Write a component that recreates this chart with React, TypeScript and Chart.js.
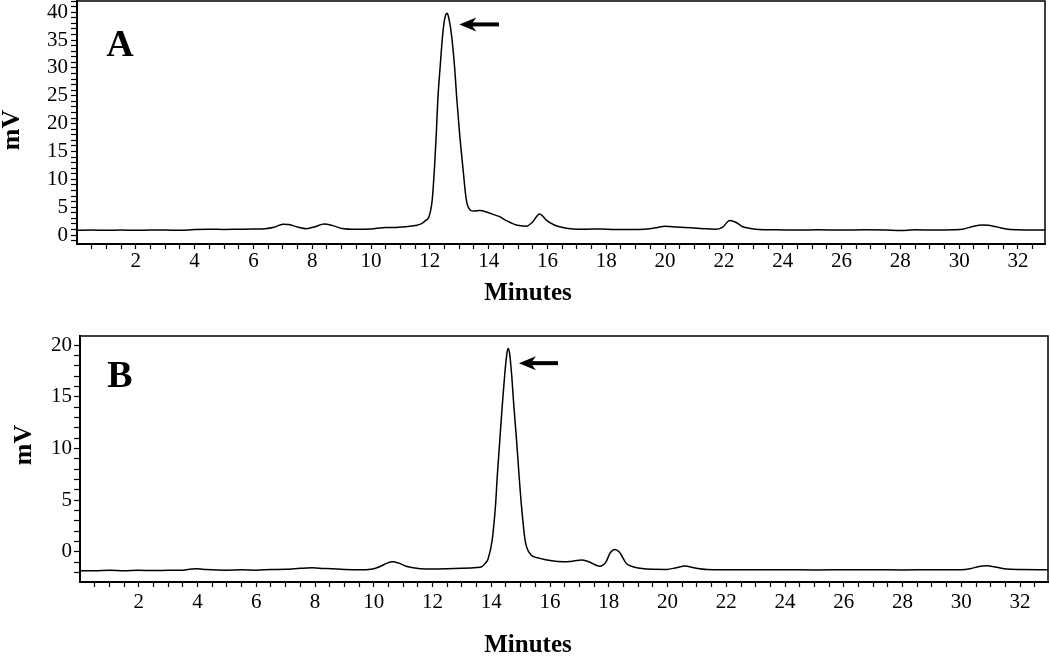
import React, { useEffect, useRef } from "react";
import { Chart, registerables } from "chart.js";
Chart.register(...registerables);

// ---- Panel A data (minutes, mV) ----
const timeA = [
  0.0, 0.5, 1.0, 1.5, 2.0, 2.5, 3.0, 3.5, 4.0, 4.5, 5.0, 5.5, 6.0, 6.4, 6.7, 7.0, 7.2, 7.5, 7.8, 8.1,
  8.4, 8.7, 9.0, 9.5, 10.0, 10.5, 10.8, 11.2, 11.5, 11.7, 11.85, 11.97, 12.08, 12.16, 12.22, 12.27, 12.35, 12.44, 12.52, 12.59,
  12.65, 12.73, 12.84, 12.92, 13.01, 13.12, 13.24, 13.37, 13.5, 13.7, 13.9, 14.1, 14.37, 14.6, 14.94, 15.28, 15.5, 15.73, 15.96, 16.2,
  16.41, 16.86, 17.3, 17.8, 18.3, 18.8, 19.3, 19.7, 20.0, 20.4, 20.9, 21.3, 21.7, 21.95, 22.2, 22.4, 22.64, 22.9, 23.2, 23.8,
  24.5, 25.2, 26.0, 26.8, 27.5, 28.0, 28.5, 29.2, 29.8, 30.12, 30.5, 30.8, 31.0, 31.26, 31.6, 32.0, 32.5, 33.0,
];
const mvA = [
  0.85, 0.9, 0.85, 0.9, 0.85, 0.9, 0.9, 0.85, 1.0, 1.05, 1.0, 1.05, 1.1, 1.15, 1.4, 1.95, 1.9, 1.45, 1.15, 1.5,
  2.0, 1.7, 1.2, 1.05, 1.1, 1.35, 1.35, 1.5, 1.7, 2.0, 2.6, 3.3, 6.3, 12.3, 18.3, 24.2, 30.2, 36.2, 39.2, 39.8,
  38.8, 36.2, 30.2, 24.2, 18.3, 12.3, 6.3, 4.5, 4.3, 4.4, 4.2, 3.8, 3.3, 2.6, 1.8, 1.6, 2.4, 3.8, 2.7, 1.9,
  1.5, 1.1, 1.05, 1.1, 1.0, 1.0, 1.05, 1.3, 1.6, 1.45, 1.3, 1.15, 1.05, 1.4, 2.6, 2.3, 1.5, 1.2, 1.0, 0.95,
  0.9, 0.95, 0.9, 0.95, 0.9, 0.8, 0.95, 0.9, 0.95, 1.05, 1.6, 1.8, 1.75, 1.5, 1.1, 0.95, 0.9, 0.9,
];

// ---- Panel B data (minutes, mV) ----
const timeB = [
  0.0, 0.5, 1.0, 1.5, 2.0, 2.5, 3.0, 3.5, 3.8, 4.0, 4.3, 5.0, 5.5, 6.0, 6.5, 7.0, 7.5, 7.9, 8.3, 9.0,
  9.5, 9.9, 10.2, 10.45, 10.65, 10.85, 11.1, 11.34, 11.79, 12.5, 13.0, 13.5, 13.67, 13.8, 13.89, 14.03, 14.14, 14.21, 14.29, 14.37,
  14.46, 14.53, 14.57, 14.62, 14.69, 14.77, 14.86, 14.94, 15.03, 15.15, 15.31, 15.65, 16.0, 16.45, 16.8, 17.07, 17.3, 17.69, 17.9, 18.05,
  18.2, 18.35, 18.6, 18.82, 19.06, 19.5, 19.96, 20.3, 20.59, 20.9, 21.33, 22.0, 23.0, 24.0, 25.0, 26.0, 27.0, 28.0, 29.0, 30.0,
  30.29, 30.6, 30.86, 31.2, 31.54, 32.0, 33.0,
];
const mvB = [
  -1.85, -1.85, -1.8, -1.85, -1.8, -1.82, -1.8, -1.78, -1.68, -1.65, -1.72, -1.78, -1.75, -1.78, -1.72, -1.7, -1.6, -1.55, -1.62, -1.72,
  -1.75, -1.7, -1.45, -1.1, -0.97, -1.1, -1.4, -1.55, -1.67, -1.65, -1.6, -1.52, -1.45, -1.1, -0.7, 1.13, 4.36, 7.59, 10.81, 14.04,
  17.27, 19.2, 19.7, 19.3, 17.27, 14.04, 10.81, 7.59, 4.36, 1.13, -0.16, -0.64, -0.85, -0.97, -0.9, -0.8, -0.95, -1.4, -1.0, -0.1,
  0.23, 0.0, -1.13, -1.45, -1.6, -1.7, -1.71, -1.55, -1.39, -1.55, -1.71, -1.74, -1.75, -1.74, -1.76, -1.75, -1.74, -1.76, -1.75, -1.74,
  -1.65, -1.42, -1.35, -1.5, -1.68, -1.72, -1.74,
];

// ---- Tick labels ----
const xTickLabels = [2, 4, 6, 8, 10, 12, 14, 16, 18, 20, 22, 24, 26, 28, 30, 32];
const xMinorStep = 0.5;
const yTickLabelsA = [0, 5, 10, 15, 20, 25, 30, 35, 40];
const yTickLabelsB = [0, 5, 10, 15, 20];
const yMinorStep = 1;

// ---- Arrow annotations: [tip minutes, tip mV, tail minutes] ----
const arrowA = [13.0, 37.8, 14.35];
const arrowB = [14.94, 18.27, 16.27];

type PanelCfg = {
  time: number[];
  mv: number[];
  yMin: number;
  yMax: number;
  xMax: number;
  yLabels: number[];
  letter: string;
  arrow: number[];
  width: number;
  height: number;
  padTop: number;
  padRight: number;
  yWidth: number;
  xHeight: number;
  yTitle: { x: number; y: number };
  xTitle: { x: number; y: number };
  letterPos: { x: number; y: number };
  xTickPad: number;
  yTickPad: number;
};

const FONT = "'Liberation Serif', 'Times New Roman', serif";

function makeChart(canvas: HTMLCanvasElement, cfg: PanelCfg) {
  const points = cfg.time.map((t, i) => ({ x: t, y: cfg.mv[i] }));
  const deco = {
    id: "deco" + cfg.letter,
    afterDraw(chart: any) {
      const { ctx, chartArea } = chart;
      const xs = chart.scales.x;
      const ys = chart.scales.y;
      ctx.save();
      // box
      ctx.strokeStyle = "#000";
      ctx.lineWidth = 1.5;
      ctx.strokeRect(chartArea.left, chartArea.top, chartArea.right - chartArea.left, chartArea.bottom - chartArea.top);
      // arrow
      const tx = xs.getPixelForValue(cfg.arrow[0]);
      const ty = ys.getPixelForValue(cfg.arrow[1]);
      const ex = xs.getPixelForValue(cfg.arrow[2]);
      ctx.fillStyle = "#000";
      ctx.lineWidth = 4;
      ctx.beginPath();
      ctx.moveTo(tx + 10, ty);
      ctx.lineTo(ex, ty);
      ctx.stroke();
      ctx.beginPath();
      ctx.moveTo(tx, ty);
      ctx.lineTo(tx + 17, ty - 7);
      ctx.lineTo(tx + 12, ty);
      ctx.lineTo(tx + 17, ty + 7);
      ctx.closePath();
      ctx.fill();
      // panel letter
      ctx.font = "bold 38px " + FONT;
      ctx.textAlign = "center";
      ctx.textBaseline = "alphabetic";
      ctx.fillText(cfg.letter, cfg.letterPos.x, cfg.letterPos.y);
      // axis titles
      ctx.font = "bold 25px " + FONT;
      ctx.textBaseline = "alphabetic";
      ctx.fillText("Minutes", cfg.xTitle.x, cfg.xTitle.y);
      ctx.save();
      ctx.translate(cfg.yTitle.x, cfg.yTitle.y);
      ctx.rotate(-Math.PI / 2);
      ctx.font = "bold 26px " + FONT;
      ctx.fillText("mV", 0, 0);
      ctx.restore();
      ctx.restore();
    },
  };

  return new Chart(canvas, {
    type: "line",
    data: {
      datasets: [
        {
          data: points,
          borderColor: "#000",
          borderWidth: 1.5,
          pointRadius: 0,
          fill: false,
          cubicInterpolationMode: "monotone",
        },
      ],
    },
    options: {
      responsive: false,
      animation: false,
      events: [],
      layout: { padding: { top: cfg.padTop, right: cfg.padRight, left: 0, bottom: 0 } },
      plugins: { legend: { display: false }, tooltip: { enabled: false }, title: { display: false } },
      scales: {
        x: {
          type: "linear",
          min: 0,
          max: cfg.xMax,
          afterFit: (s: any) => {
            s.height = cfg.xHeight;
            s.paddingLeft = 0;
            s.paddingRight = 0;
          },
          afterBuildTicks: (s: any) => {
            const ticks = [];
            for (let v = xMinorStep; v <= cfg.xMax + 1e-9; v += xMinorStep) ticks.push({ value: Math.round(v * 10) / 10 });
            s.ticks = ticks;
          },
          grid: { display: true, drawOnChartArea: false, drawTicks: true, tickLength: 5, color: "#000", tickWidth: 1.2 },
          border: { display: true, color: "#000", width: 2 },
          ticks: {
            autoSkip: false,
            maxRotation: 0,
            padding: cfg.xTickPad,
            color: "#000",
            font: { family: FONT, size: 21 },
            callback: (v: any) => (xTickLabels.includes(Number(v)) ? String(v) : ""),
          },
        },
        y: {
          type: "linear",
          min: cfg.yMin,
          max: cfg.yMax,
          afterFit: (s: any) => {
            s.width = cfg.yWidth;
            s.paddingTop = 0;
            s.paddingBottom = 0;
          },
          afterBuildTicks: (s: any) => {
            const ticks = [];
            for (let v = Math.ceil(cfg.yMin); v <= cfg.yMax + 1e-9; v += yMinorStep) ticks.push({ value: v });
            s.ticks = ticks;
          },
          grid: { display: true, drawOnChartArea: false, drawTicks: true, tickLength: 6, color: "#000", tickWidth: 1.2 },
          border: { display: true, color: "#000", width: 2 },
          ticks: {
            autoSkip: false,
            padding: cfg.yTickPad,
            color: "#000",
            font: { family: FONT, size: 21 },
            callback: (v: any) => (cfg.yLabels.includes(Number(v)) ? String(v) : ""),
          },
        },
      },
    },
    plugins: [deco],
  } as any);
}

const cfgA: PanelCfg = {
  time: timeA,
  mv: mvA,
  yMin: -1.6,
  yMax: 42,
  xMax: 32.92,
  yLabels: yTickLabelsA,
  letter: "A",
  arrow: arrowA,
  width: 1050,
  height: 320,
  padTop: 1,
  padRight: 5,
  yWidth: 77,
  xHeight: 76,
  yTitle: { x: 19, y: 130 },
  xTitle: { x: 528, y: 300 },
  letterPos: { x: 120, y: 56 },
  xTickPad: 0,
  yTickPad: 3,
};

const cfgB: PanelCfg = {
  time: timeB,
  mv: mvB,
  yMin: -2.93,
  yMax: 20.9,
  xMax: 32.95,
  yLabels: yTickLabelsB,
  letter: "B",
  arrow: arrowB,
  width: 1050,
  height: 337,
  padTop: 16,
  padRight: 2,
  yWidth: 80,
  xHeight: 75,
  yTitle: { x: 31, y: 125 },
  xTitle: { x: 528, y: 332 },
  letterPos: { x: 120, y: 67 },
  xTickPad: 3,
  yTickPad: 2,
};

function Panel({ cfg, top }: { cfg: PanelCfg; top: number }) {
  const ref = useRef<HTMLCanvasElement | null>(null);
  useEffect(() => {
    if (!ref.current) return;
    const chart = makeChart(ref.current, cfg);
    return () => chart.destroy();
  }, [cfg]);
  return (
    <canvas
      ref={ref}
      width={cfg.width}
      height={cfg.height}
      style={{ position: "absolute", left: 0, top, width: cfg.width, height: cfg.height, display: "block" }}
    />
  );
}

export default function App() {
  return (
    <div style={{ position: "absolute", left: 0, top: 0, width: 1050, height: 657, background: "#fff", overflow: "hidden" }}>
      <Panel cfg={cfgA} top={0} />
      <Panel cfg={cfgB} top={320} />
    </div>
  );
}
